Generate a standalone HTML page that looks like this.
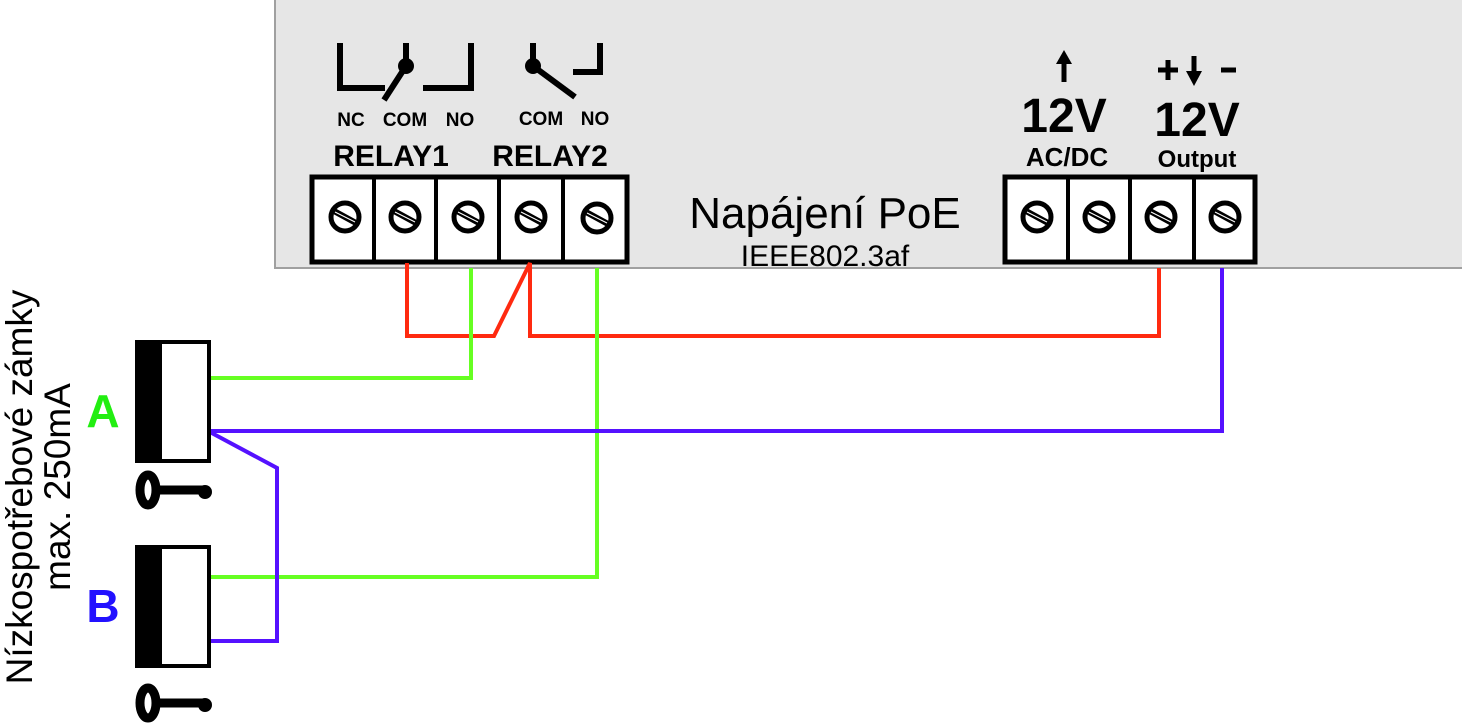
<!DOCTYPE html>
<html><head><meta charset="utf-8"><style>
html,body{margin:0;padding:0;background:#fff;}
svg{display:block;font-family:"Liberation Sans",Arial,sans-serif;}
</style></head><body>
<svg width="1462" height="725" viewBox="0 0 1462 725">
<rect x="275" y="-2" width="1190" height="270" fill="#e6e6e6" stroke="#a0a0a0" stroke-width="2"/>
<g stroke="#000" stroke-width="6" fill="none">
<polyline points="340,43 340,88 385,88"/>
<polyline points="423,88 471,88 471,43"/>
<line x1="406" y1="43" x2="406" y2="66"/>
<line x1="406" y1="66" x2="384" y2="100"/>
<line x1="533" y1="43" x2="533" y2="66"/>
<line x1="533" y1="66" x2="575" y2="97"/>
<polyline points="573,72 600,72 600,43"/>
</g>
<circle cx="406" cy="66" r="8"/>
<circle cx="533" cy="66" r="8"/>
<g font-weight="bold" font-size="19" text-anchor="middle">
<text x="351" y="126">NC</text><text x="405" y="126">COM</text><text x="460" y="126">NO</text>
<text x="541" y="125">COM</text><text x="595" y="125">NO</text>
</g>
<g font-weight="bold" font-size="30" text-anchor="middle">
<text x="391" y="166">RELAY1</text><text x="550" y="166">RELAY2</text>
</g>
<g stroke="#000" stroke-width="5"><line x1="1064" y1="82" x2="1064" y2="60"/><line x1="1194" y1="56" x2="1194" y2="74"/><line x1="1158" y1="70" x2="1178" y2="70"/><line x1="1168" y1="60" x2="1168" y2="80"/><line x1="1221" y1="70" x2="1236" y2="70"/></g>
<polygon points="1064,50 1056,64 1072,64"/>
<polygon points="1194,86 1186,71 1202,71"/>
<g font-weight="bold" text-anchor="middle">
<text x="1064" y="132" font-size="48">12V</text>
<text x="1067" y="166" font-size="26">AC/DC</text>
<text x="1197" y="136" font-size="48">12V</text>
<text x="1197" y="167" font-size="24">Output</text>
</g>
<text x="825" y="228" font-size="44" text-anchor="middle">Napájení PoE</text>
<text x="825" y="266" font-size="30" text-anchor="middle">IEEE802.3af</text>
<g stroke="#000" stroke-width="5" fill="#fff">
<rect x="312" y="177" width="315" height="85"/>
<rect x="1005" y="177" width="250" height="85"/>
</g>
<g stroke="#000" stroke-width="4">
<line x1="374" y1="177" x2="374" y2="262"/><line x1="436" y1="177" x2="436" y2="262"/><line x1="499" y1="177" x2="499" y2="262"/><line x1="563" y1="177" x2="563" y2="262"/>
<line x1="1068" y1="177" x2="1068" y2="262"/><line x1="1130" y1="177" x2="1130" y2="262"/><line x1="1194" y1="177" x2="1194" y2="262"/>
</g>
<defs><g id="s"><circle r="14" fill="#fff" stroke="#000" stroke-width="5"/><line x1="-11" y1="-6" x2="11" y2="6" stroke="#000" stroke-width="6"/><line x1="-10" y1="-5" x2="10" y2="5" stroke="#fff" stroke-width="1"/></g></defs>
<use href="#s" x="345" y="217"/><use href="#s" x="405" y="217"/><use href="#s" x="468" y="217"/><use href="#s" x="531" y="217"/><use href="#s" x="597" y="218"/>
<use href="#s" x="1037" y="217"/><use href="#s" x="1099" y="217"/><use href="#s" x="1161" y="217"/><use href="#s" x="1225" y="217"/>
<g fill="none" stroke-width="4">
<polyline stroke="#ff2a10" points="407,263 407,336 494,336 530,263 530,336 1159,336 1159,268"/>
<polyline stroke="#66ff22" points="471,268 471,378 208,378"/>
<polyline stroke="#66ff22" points="597,268 597,577 210,577"/>
<polyline stroke="#5511ff" points="1222,268 1222,431 208,431"/>
<polyline stroke="#5511ff" points="208,431 277,468 277,641 208,641"/>
</g>
<g>
<rect x="135" y="340" width="27" height="123" fill="#000"/>
<rect x="160" y="342" width="49" height="119" fill="#fff" stroke="#000" stroke-width="4"/>
<rect x="135" y="545" width="27" height="123" fill="#000"/>
<rect x="160" y="547" width="49" height="119" fill="#fff" stroke="#000" stroke-width="4"/>
</g>
<g fill="none" stroke="#000" stroke-width="9">
<ellipse cx="148" cy="490" rx="8" ry="15"/><line x1="157" y1="490" x2="205" y2="490"/>
<ellipse cx="148" cy="703" rx="8" ry="15"/><line x1="157" y1="703" x2="205" y2="703"/>
</g>
<circle cx="205" cy="492" r="7"/><circle cx="205" cy="705" r="7"/>
<text x="103" y="427" font-size="46" font-weight="bold" fill="#22ee11" text-anchor="middle">A</text>
<text x="103" y="622" font-size="46" font-weight="bold" fill="#2211ff" text-anchor="middle">B</text>
<text transform="translate(32,487) rotate(-90)" font-size="37" text-anchor="middle">Nízkospotřebové zámky</text>
<text transform="translate(70,487) rotate(-90)" font-size="37" text-anchor="middle">max. 250mA</text>
</svg>
</body></html>
